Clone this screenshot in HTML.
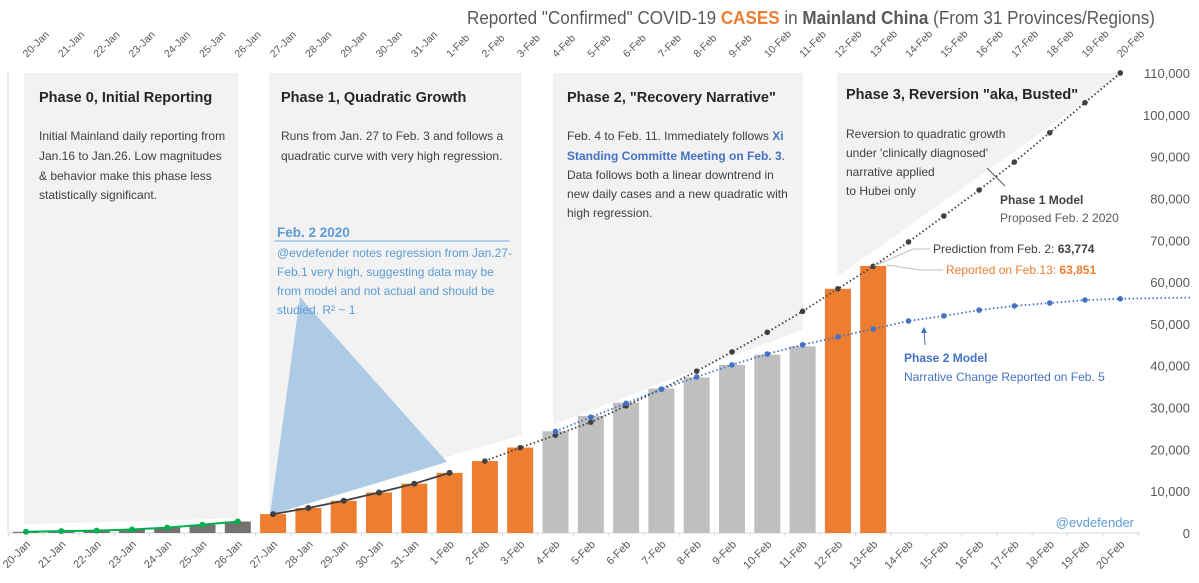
<!DOCTYPE html>
<html><head><meta charset="utf-8"><style>
body{margin:0;background:#fff;}
svg{display:block;font-family:"Liberation Sans",sans-serif;}
</style></head><body>
<svg id="s" width="1199" height="583" viewBox="0 0 1199 583" xmlns="http://www.w3.org/2000/svg">
<rect width="1199" height="583" fill="#fff"/>
<path d="M24,73 H238 V518 Q130,522 24,524 Z" fill="#f2f2f2"/>
<path d="M269,73 H522 V435 Q400,470 269,513 Z" fill="#f2f2f2"/>
<path d="M553,73 H803 V330 Q680,375 553,425 Z" fill="#f2f2f2"/>
<path d="M837,73 H1125 L837,277 Z" fill="#f2f2f2"/>
<polygon points="300,297 270,515 447,462" fill="#aecbe6"/>
<line x1="8" y1="73" x2="8" y2="533" stroke="#d9d9d9"/>
<line x1="8" y1="533" x2="1140" y2="533" stroke="#d9d9d9"/>
<g id="g"></g>
<text x="1155" y="24" text-anchor="end" font-size="18" fill="#595959" textLength="688" lengthAdjust="spacingAndGlyphs">Reported "Confirmed" COVID-19 <tspan fill="#ed7d31" font-weight="bold">CASES</tspan> in <tspan font-weight="bold">Mainland China</tspan> (From 31 Provinces/Regions)</text>
<g font-size="14.5" font-weight="bold" fill="#262626">
<text x="39" y="102">Phase 0, Initial Reporting</text>
<text x="281" y="102">Phase 1, Quadratic Growth</text>
<text x="567" y="102">Phase 2, "Recovery Narrative"</text>
<text x="846" y="99">Phase 3,  Reversion  "aka, Busted"</text>
</g>
<g font-size="12" fill="#404040">
<text x="39" y="140">Initial Mainland daily reporting from</text>
<text x="39" y="160">Jan.16 to Jan.26.  Low magnitudes</text>
<text x="39" y="180">&amp; behavior make this phase less</text>
<text x="39" y="199">statistically significant.</text>
<text x="281" y="140">Runs from Jan. 27 to Feb. 3 and follows a</text>
<text x="281" y="160">quadratic curve with very high regression.</text>
<text x="567" y="140">Feb. 4 to Feb. 11.  Immediately follows <tspan fill="#4472c4" font-weight="bold">Xi</tspan></text>
<text x="567" y="160" fill="#4472c4" font-weight="bold">Standing Committe Meeting on Feb. 3<tspan fill="#404040" font-weight="normal">.</tspan></text>
<text x="567" y="179">Data follows both a linear downtrend in</text>
<text x="567" y="198">new daily cases and a new quadratic with</text>
<text x="567" y="217">high regression.</text>
<text x="846" y="138">Reversion to quadratic growth</text>
<text x="846" y="157">under 'clinically diagnosed'</text>
<text x="846" y="176">narrative applied</text>
<text x="846" y="195">to Hubei only</text>
</g>
<text x="277" y="237" font-size="13.5" font-weight="bold" fill="#5b9bd5">Feb. 2  2020</text>
<line x1="274" y1="241" x2="510" y2="241" stroke="#9dc3e6" stroke-width="1.5"/>
<g font-size="12" fill="#5b9bd5">
<text x="277" y="257">@evdefender notes regression from Jan.27-</text>
<text x="277" y="276">Feb.1 very high, suggesting data may be</text>
<text x="277" y="295">from model and not actual and should be</text>
<text x="277" y="314">studied.  R² ~ 1</text>
</g>
<line x1="1005" y1="186" x2="987" y2="168" stroke="#595959"/>
<text x="1000" y="204" font-size="12" font-weight="bold" fill="#404040">Phase 1 Model</text>
<text x="1000" y="222" font-size="12" fill="#595959">Proposed Feb. 2  2020</text>
<polyline points="930,249 913,249 874,266" fill="none" stroke="#bfbfbf"/>
<text x="933" y="253" font-size="12" fill="#404040">Prediction from Feb. 2:  <tspan font-weight="bold">63,774</tspan></text>
<polyline points="943,270 920,270 887,265" fill="none" stroke="#bfbfbf"/>
<text x="946" y="274" font-size="12" fill="#ed7d31">Reported on Feb.13:  <tspan font-weight="bold">63,851</tspan></text>
<line x1="925" y1="345" x2="924" y2="330" stroke="#4472c4"/>
<polygon points="924,327 921,333 927,333" fill="#4472c4"/>
<text x="904" y="362" font-size="12" font-weight="bold" fill="#4472c4">Phase 2 Model</text>
<text x="904" y="381" font-size="12" fill="#4472c4">Narrative Change Reported on Feb. 5</text>
<text x="1134" y="527" font-size="13" text-anchor="end" fill="#5b9bd5">@evdefender</text>
</svg>
<script>
var g=document.getElementById('g'),h='';
function X(i){return 26+35.3*i;}function Y(v){return 533-v*0.004182;}
var vals=[291,440,571,830,1287,1975,2744,4515,5974,7711,9692,11791,14380,17205,20438,24324,28018,31161,34546,37198,40171,42638,44653,58400,63851];
var lab=[];for(var i=0;i<12;i++)lab.push((20+i)+'-Jan');for(i=1;i<=20;i++)lab.push(i+'-Feb');
for(i=0;i<vals.length;i++){var c=i<7?'#767171':(i<15||i>22?'#ed7d31':'#bfbfbf');
h+='<rect x="'+(X(i)-13)+'" y="'+Y(vals[i])+'" width="26" height="'+(533-Y(vals[i]))+'" fill="'+c+'"/>';}
for(i=0;i<=32;i++){h+='<line x1="'+(X(i)-17.6)+'" y1="533" x2="'+(X(i)-17.6)+'" y2="537" stroke="#d9d9d9"/>';}
for(i=0;i<32;i++){h+='<text transform="translate('+(X(i)+5)+',545) rotate(-45)" text-anchor="end" font-size="11" fill="#595959">'+lab[i]+'</text>';
h+='<text transform="translate('+(X(i)+1)+',58) rotate(-45)" text-anchor="start" font-size="10.5" fill="#595959">'+lab[i]+'</text>';}
for(i=0;i<=11;i++){h+='<text x="1190" y="'+(Y(i*10000)+5)+'" text-anchor="end" font-size="13" fill="#595959">'+(i==0?'0':(i*10)+',000')+'</text>';}
var p=[];for(i=0;i<7;i++)p.push(X(i)+','+(Y(vals[i])));
h+='<polyline points="'+p.join(' ')+'" fill="none" stroke="#00b050" stroke-width="2"/>';
for(i=0;i<7;i++)h+='<circle cx="'+X(i)+'" cy="'+Y(vals[i])+'" r="3" fill="#00b050"/>';
p=[];for(i=7;i<13;i++)p.push(X(i)+','+Y(vals[i]));
h+='<polyline points="'+p.join(' ')+'" fill="none" stroke="#404040" stroke-width="1.8"/>';
for(i=7;i<13;i++)h+='<circle cx="'+X(i)+'" cy="'+Y(vals[i])+'" r="3" fill="#404040"/>';
var m1=[17205,20400,23400,26500,30400,34400,38700,43300,48000,53000,58400,63774,69600,75800,82000,88700,95700,102900,110000];
p=[];for(i=0;i<m1.length;i++)p.push(X(13+i)+','+Y(m1[i]));
h+='<polyline points="'+p.join(' ')+'" fill="none" stroke="#404040" stroke-width="1.8" stroke-dasharray="1.5,2.5"/>';
for(i=0;i<m1.length;i++)h+='<circle cx="'+X(13+i)+'" cy="'+Y(m1[i])+'" r="2.8" fill="#404040"/>';
var m2=[24300,27700,31000,34400,37300,40200,42800,45000,46900,48800,50700,51900,53300,54300,55000,55700,56000];
p=[];for(i=0;i<m2.length;i++)p.push(X(15+i)+','+Y(m2[i]));p.push('1192,'+Y(56300));
h+='<polyline points="'+p.join(' ')+'" fill="none" stroke="#4472c4" stroke-width="1.8" stroke-dasharray="1.5,2.5"/>';
for(i=0;i<m2.length;i++)h+='<circle cx="'+X(15+i)+'" cy="'+Y(m2[i])+'" r="2.8" fill="#4472c4"/>';
g.innerHTML=h;
</script>
</body></html>
